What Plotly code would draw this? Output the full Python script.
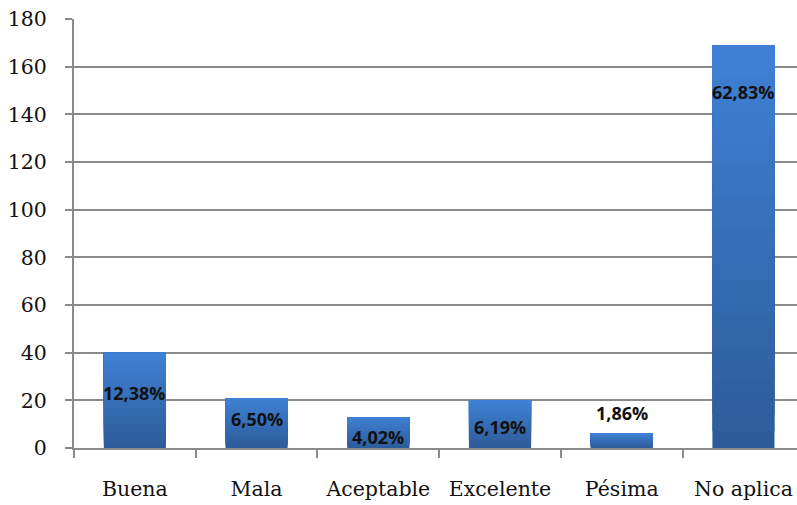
import plotly.graph_objects as go

# Survey responses per category
categories = ["Buena", "Mala", "Aceptable", "Excelente", "Pésima", "No aplica"]
counts = [40, 21, 13, 20, 6, 169]
pct_labels = ["12,38%", "6,50%", "4,02%", "6,19%", "1,86%", "62,83%"]

# Vertical anchor (in axis units) of each percentage label
label_y = [23, 12.2, 4.6, 8.8, 14.7, 149.4]

y_ticks = list(range(0, 181, 20))

# Vertical gradient for the bars: dark at the base, lighter toward the top
top_rgb = (64, 130, 214)
bottom_rgb = (45, 92, 154)
steps = 24

fig = go.Figure()
for k in range(steps):
    f = k / steps
    r = round(bottom_rgb[0] + (top_rgb[0] - bottom_rgb[0]) * f)
    g = round(bottom_rgb[1] + (top_rgb[1] - bottom_rgb[1]) * f)
    b = round(bottom_rgb[2] + (top_rgb[2] - bottom_rgb[2]) * f)
    fig.add_trace(go.Bar(
        x=categories,
        y=[v * (1 - f) for v in counts],
        base=[v * f for v in counts],
        marker=dict(color=f"rgb({r},{g},{b})", line=dict(width=0)),
        hoverinfo="skip",
        showlegend=False,
    ))

for cat, text, ly in zip(categories, pct_labels, label_y):
    fig.add_annotation(
        x=cat, y=ly, text=f"<b>{text}</b>", showarrow=False,
        font=dict(family="Open Sans", size=18, color="#111111"),
        xanchor="center", yanchor="middle",
    )

serif = dict(family="DejaVu Serif", size=20.5, color="#111111")

fig.update_layout(
    width=797, height=505,
    margin=dict(l=74, r=0, t=19, b=57, autoexpand=False),
    paper_bgcolor="white", plot_bgcolor="white",
    barmode="overlay", bargap=0.49,
    font=serif,
)
fig.update_xaxes(
    range=[-0.5, 5.44],
    showline=True, linecolor="#8a8a8a", linewidth=2,
    ticks="outside", ticklen=8, tickcolor="#8a8a8a", tickwidth=2,
    tickson="boundaries", showgrid=False,
    tickangle=0, automargin=False,
    ticklabelstandoff=21,
    tickfont=serif,
)
fig.update_yaxes(
    range=[0, 180], tickvals=y_ticks,
    showline=True, linecolor="#8a8a8a", linewidth=2,
    ticks="outside", ticklen=7, tickcolor="#8a8a8a", tickwidth=2,
    showgrid=True, gridcolor="#8a8a8a", gridwidth=2,
    zeroline=False, automargin=False, ticklabelstandoff=14,
    tickfont=serif,
)

fig.write_html("out.html")
